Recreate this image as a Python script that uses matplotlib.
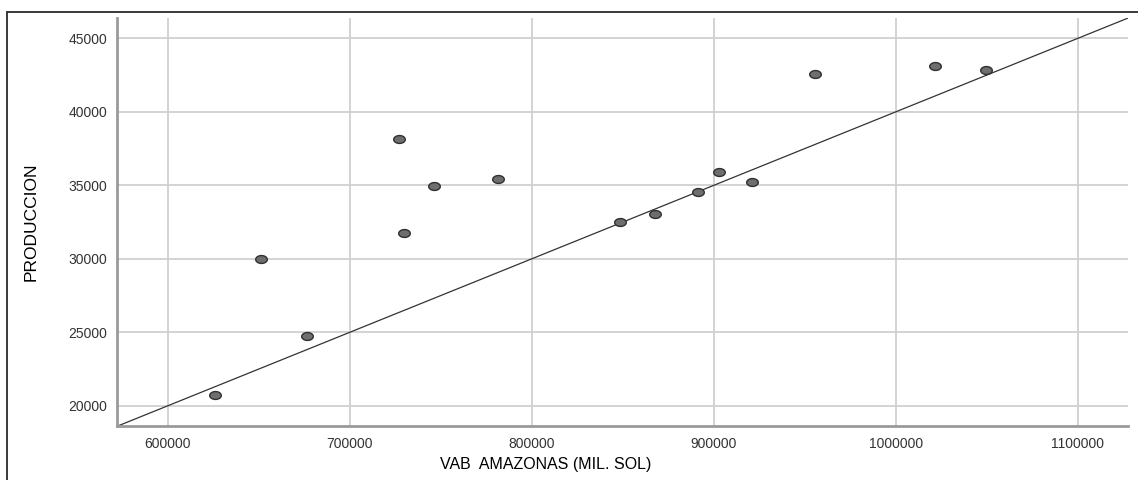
import numpy as np
import matplotlib
matplotlib.use("Agg")
import matplotlib.pyplot as plt
from matplotlib.path import Path
from matplotlib.patches import Rectangle
from matplotlib.ticker import FormatStrFormatter

# Datos
vab_amazonas = [625800, 651100, 676200, 727100, 729500, 746200, 781200, 848500,
                867800, 891400, 902900, 921000, 955500, 1021300, 1049500]
produccion = [20750, 29970, 24750, 38160, 31750, 34950, 35410, 32510,
              33030, 34520, 35910, 35250, 42590, 43090, 42860]

# Linea de referencia (y = pendiente * x + intercepto)
pendiente = 0.05
intercepto = -10000

x_ticks = [600000, 700000, 800000, 900000, 1000000, 1100000]
y_ticks = [20000, 25000, 30000, 35000, 40000, 45000]

plt.rcParams['font.family'] = ['Liberation Sans', 'DejaVu Sans']

fig = plt.figure(figsize=(11.38, 4.8), dpi=100)
ax = fig.add_axes([0.1028, 0.1131, 0.8884, 0.8494])

# Marco exterior
fig.patches.append(Rectangle((7 / 1138, -0.1), 1.2, (480 - 12) / 480 + 0.1,
                             transform=fig.transFigure, fill=False,
                             edgecolor='#2b2b2b', linewidth=1.3))

# Marcador eliptico
t = np.linspace(0, 2 * np.pi, 40)
elipse = Path(np.column_stack([np.cos(t) * 1.0, np.sin(t) * 0.68]))

ax.scatter(vab_amazonas, produccion, marker=elipse, s=70,
           facecolor='#6e6e6e', edgecolor='#303030', linewidth=1.0, zorder=3)

ax.axline((0, intercepto), slope=pendiente, color='#333333', linewidth=0.9, zorder=2)

ax.set_xlim(572000, 1127500)
ax.set_ylim(18640, 46380)
ax.set_xticks(x_ticks)
ax.set_yticks(y_ticks)
ax.xaxis.set_major_formatter(FormatStrFormatter('%d'))
ax.yaxis.set_major_formatter(FormatStrFormatter('%d'))
ax.grid(True, color='#d0d0d0', linewidth=1.3)
ax.set_axisbelow(True)

for s in ['top', 'right']:
    ax.spines[s].set_visible(False)
for s in ['left', 'bottom']:
    ax.spines[s].set_color('#9a9a9a')
    ax.spines[s].set_linewidth(2)

ax.tick_params(length=0, labelsize=10, labelcolor='#333333')
ax.tick_params(axis='y', pad=7)
ax.tick_params(axis='x', pad=8)

ax.set_ylabel('PRODUCCION', fontsize=12.5, color='black')
ax.yaxis.set_label_coords(-0.078, 0.5)
fig.text(546 / 1138, 1 - 465 / 480, 'VAB  AMAZONAS (MIL. SOL)', fontsize=11.5,
         ha='center', va='center', color='black')

plt.savefig('out.png', dpi=100)
